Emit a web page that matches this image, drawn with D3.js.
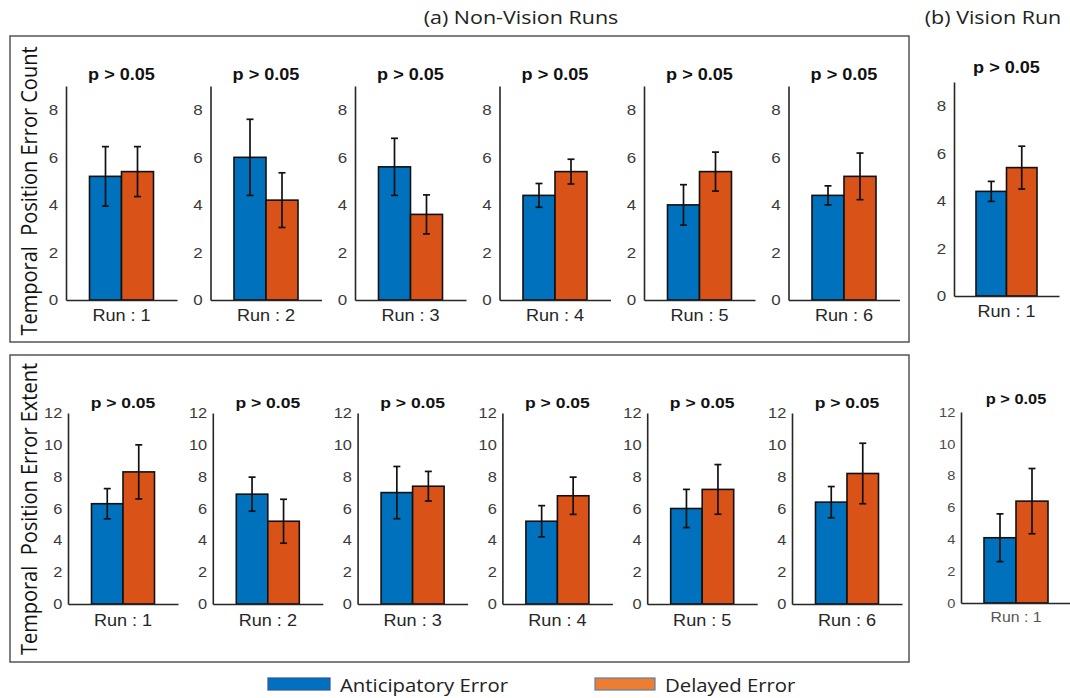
<!DOCTYPE html>
<html>
<head>
<meta charset="utf-8">
<script src="https://cdn.jsdelivr.net/npm/d3@7"></script>
<style>
  html, body { margin: 0; padding: 0; background: #fff; }
  svg { display: block; }
</style>
</head>
<body>
<svg id="chart" width="1070" height="698"></svg>
<script>
// ---- data ----
const runs = ["Run : 1", "Run : 2", "Run : 3", "Run : 4", "Run : 5", "Run : 6"];
const visionRuns = ["Run : 1"];
const seriesNames = ["Anticipatory Error", "Delayed Error"];
const pLabel = "p > 0.05";

// Temporal position error count (non-vision runs)
const countAnticipatory = [5.2, 6.0, 5.6, 4.4, 4.0, 4.4];
const countAnticipatoryErr = [1.25, 1.6, 1.2, 0.5, 0.85, 0.4];
const countDelayed = [5.4, 4.2, 3.6, 5.4, 5.4, 5.2];
const countDelayedErr = [1.05, 1.15, 0.82, 0.52, 0.82, 0.98];

// Temporal position error extent (non-vision runs)
const extentAnticipatory = [6.3, 6.9, 7.0, 5.2, 6.0, 6.4];
const extentAnticipatoryErr = [0.95, 1.07, 1.64, 0.98, 1.2, 0.98];
const extentDelayed = [8.3, 5.2, 7.4, 6.8, 7.2, 8.2];
const extentDelayedErr = [1.7, 1.38, 0.93, 1.17, 1.56, 1.9];

// Vision run
const visionCountAnticipatory = [4.4];
const visionCountAnticipatoryErr = [0.42];
const visionCountDelayed = [5.4];
const visionCountDelayedErr = [0.9];
const visionExtentAnticipatory = [4.1];
const visionExtentAnticipatoryErr = [1.5];
const visionExtentDelayed = [6.4];
const visionExtentDelayedErr = [2.05];

const countTicks = [0, 2, 4, 6, 8];
const extentTicks = [0, 2, 4, 6, 8, 10, 12];

// ---- styling ----
const colors = { "Anticipatory Error": "#0072BD", "Delayed Error": "#D95319" };
const legendFill = { "Anticipatory Error": "#0070C0", "Delayed Error": "#ED7D31" };
const legendStroke = { "Anticipatory Error": "#2F5597", "Delayed Error": "#5B7FA8" };
const K = 1.13; // horizontal text widening
const sansUI = "'Open Sans', 'Noto Sans', sans-serif";
const sansPlot = "'Liberation Sans', Arial, Helvetica, sans-serif";

const svg = d3.select("#chart");

function placeText(sel, x, y, extra) {
  sel.attr("transform", `translate(${x},${y}) scale(${K},1)` + (extra || ""));
  return sel;
}

function panel(o) {
  const g = svg.append("g");
  const bw = o.barWidth * 2;
  const x = d3.scaleBand().domain([o.cat]).range([o.x0, o.x0 + o.width])
    .paddingInner(0).paddingOuter((o.width / bw - 1) / 2);
  const xs = d3.scaleBand().domain(seriesNames).range([0, x.bandwidth()]);
  const y = d3.scaleLinear().domain([0, o.max]).range([o.yZero, o.yTop]);

  const rows = [
    { s: seriesNames[0], v: o.ant, e: o.antErr },
    { s: seriesNames[1], v: o.del, e: o.delErr }
  ];

  // bars
  g.selectAll("rect.bar").data(rows).join("rect")
    .attr("class", "bar")
    .attr("x", d => x(o.cat) + xs(d.s))
    .attr("width", xs.bandwidth())
    .attr("y", d => y(d.v))
    .attr("height", d => y(0) - y(d.v))
    .attr("fill", d => colors[d.s])
    .attr("stroke", "#111")
    .attr("stroke-width", 1.6);

  // error bars
  const cap = 3.5;
  const eb = g.selectAll("g.err").data(rows).join("g").attr("class", "err")
    .attr("stroke", "#111").attr("stroke-width", 1.7);
  const cx = d => x(o.cat) + xs(d.s) + xs.bandwidth() / 2;
  eb.append("line").attr("x1", cx).attr("x2", cx)
    .attr("y1", d => y(d.v - d.e)).attr("y2", d => y(d.v + d.e));
  eb.append("line").attr("x1", d => cx(d) - cap).attr("x2", d => cx(d) + cap)
    .attr("y1", d => y(d.v + d.e)).attr("y2", d => y(d.v + d.e));
  eb.append("line").attr("x1", d => cx(d) - cap).attr("x2", d => cx(d) + cap)
    .attr("y1", d => y(d.v - d.e)).attr("y2", d => y(d.v - d.e));

  // y axis
  const ya = g.append("g").attr("transform", `translate(${o.x0},0)`)
    .call(d3.axisLeft(y).tickValues(o.ticks).tickSize(0).tickSizeOuter(0).tickPadding(o.tickPad));
  ya.select(".domain").attr("stroke", "#262626").attr("stroke-width", 1.6);
  ya.selectAll(".tick text")
    .attr("font-family", sansPlot).attr("font-size", o.tickFont).attr("fill", o.tickColor)
    .attr("transform", `scale(${K},1)`);

  // x axis
  const xa = g.append("g").attr("transform", `translate(0,${o.yZero})`)
    .call(d3.axisBottom(x).tickSize(0).tickSizeOuter(0).tickPadding(o.runPad));
  xa.select(".domain").attr("stroke", "#262626").attr("stroke-width", 1.6);
  xa.selectAll(".tick text")
    .attr("font-family", sansPlot).attr("font-size", o.runFont).attr("fill", o.runColor)
    .attr("transform", `scale(${K},1)`);

  // title
  placeText(g.append("text"), x(o.cat) + x.bandwidth() / 2, o.titleY)
    .attr("text-anchor", "middle")
    .attr("font-family", sansPlot).attr("font-weight", "bold")
    .attr("font-size", o.titleFont).attr("fill", "#111")
    .text(pLabel);
}

// ---- frames ----
svg.append("rect").attr("x", 10).attr("y", 36).attr("width", 899).attr("height", 306)
  .attr("fill", "none").attr("stroke", "#555").attr("stroke-width", 1.5);
svg.append("rect").attr("x", 10).attr("y", 355).attr("width", 899).attr("height", 307)
  .attr("fill", "none").attr("stroke", "#555").attr("stroke-width", 1.5);

// ---- headers ----
placeText(svg.append("text"), 521, 24).attr("text-anchor", "middle")
  .attr("font-family", sansUI).attr("font-size", 19).attr("fill", "#222")
  .text("(a) Non-Vision Runs");
placeText(svg.append("text"), 993, 24).attr("text-anchor", "middle")
  .attr("font-family", sansUI).attr("font-size", 19).attr("fill", "#222")
  .text("(b) Vision Run");

// ---- y axis titles ----
placeText(svg.append("text"), 37, 191, " rotate(-90)").attr("text-anchor", "middle")
  .attr("font-family", sansUI).attr("font-size", 20).attr("fill", "#111")
  .style("white-space", "pre")
  .text("Temporal  Position Error Count");
placeText(svg.append("text"), 37, 509, " rotate(-90)").attr("text-anchor", "middle")
  .attr("font-family", sansUI).attr("font-size", 20).attr("fill", "#111")
  .style("white-space", "pre")
  .text("Temporal  Position Error Extent");

// ---- non-vision panels ----
runs.forEach((r, i) => {
  panel({
    cat: r, x0: 66 + i * 144.5, width: 111, barWidth: 32,
    yZero: 300, yTop: 86, max: 9, ticks: countTicks,
    ant: countAnticipatory[i], antErr: countAnticipatoryErr[i],
    del: countDelayed[i], delErr: countDelayedErr[i],
    titleY: 80, titleFont: 16, tickFont: 15, tickPad: 7, tickColor: "#3a3a3a",
    runFont: 16, runPad: 10, runColor: "#262626"
  });
  panel({
    cat: r, x0: 68 + i * 144.8, width: 110, barWidth: 31.5,
    yZero: 604, yTop: 413, max: 12, ticks: extentTicks,
    ant: extentAnticipatory[i], antErr: extentAnticipatoryErr[i],
    del: extentDelayed[i], delErr: extentDelayedErr[i],
    titleY: 408, titleFont: 15.5, tickFont: 14.5, tickPad: 5, tickColor: "#3a3a3a",
    runFont: 16, runPad: 11, runColor: "#262626"
  });
});

// ---- vision panels ----
panel({
  cat: visionRuns[0], x0: 954, width: 105, barWidth: 30.5,
  yZero: 296, yTop: 82, max: 9, ticks: countTicks,
  ant: visionCountAnticipatory[0], antErr: visionCountAnticipatoryErr[0],
  del: visionCountDelayed[0], delErr: visionCountDelayedErr[0],
  titleY: 73, titleFont: 16, tickFont: 15, tickPad: 7, tickColor: "#3a3a3a",
  runFont: 16, runPad: 10, runColor: "#262626"
});
panel({
  cat: visionRuns[0], x0: 961, width: 110, barWidth: 32,
  yZero: 603, yTop: 412, max: 12, ticks: extentTicks,
  ant: visionExtentAnticipatory[0], antErr: visionExtentAnticipatoryErr[0],
  del: visionExtentDelayed[0], delErr: visionExtentDelayedErr[0],
  titleY: 404, titleFont: 14.5, tickFont: 13, tickPad: 5, tickColor: "#4a4a4a",
  runFont: 14, runPad: 9, runColor: "#555"
});

// ---- legend ----
const legendItems = [
  { s: seriesNames[0], x: 268, w: 62 },
  { s: seriesNames[1], x: 595, w: 60 }
];
const lg = svg.append("g");
legendItems.forEach(it => {
  lg.append("rect").attr("x", it.x).attr("y", 678).attr("width", it.w).attr("height", 12)
    .attr("fill", legendFill[it.s]).attr("stroke", legendStroke[it.s]).attr("stroke-width", 1.2);
  placeText(lg.append("text"), it.x + it.w + 10, 692)
    .attr("font-family", sansUI).attr("font-size", 18).attr("fill", "#222")
    .text(it.s);
});
</script>
</body>
</html>
